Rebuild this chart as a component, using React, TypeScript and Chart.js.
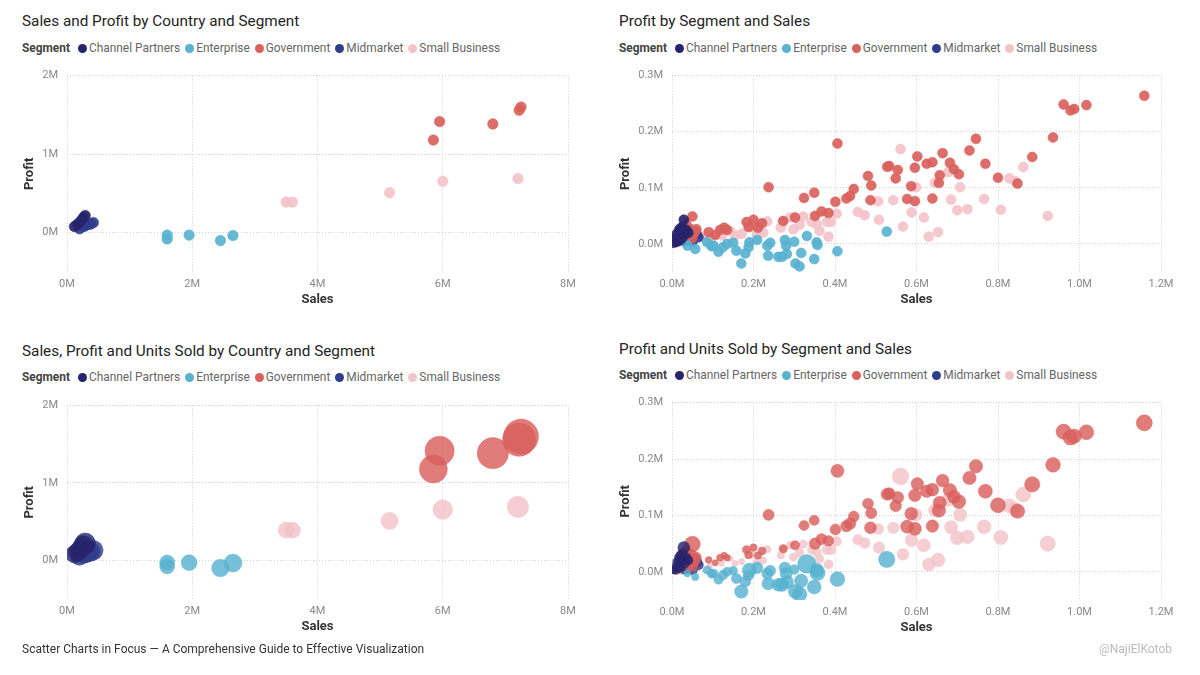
import React, { useEffect, useRef } from "react";
import { Chart, registerables } from "chart.js";

Chart.register(...registerables);

type Row = [number, number, number]; // [sales (M), profit (M), units sold]

const segments = ["Channel Partners", "Enterprise", "Government", "Midmarket", "Small Business"];
const segmentColors = ["#26246C", "#58B2D0", "#D9605C", "#2E3C8C", "#F3C3CA"];

// ---- By Country and Segment (sales M, profit M, units) ----
const cpByCountry: Row[] = [[0.12, 0.08, 42000], [0.17, 0.11, 44000], [0.22, 0.15, 47000], [0.26, 0.19, 52000], [0.29, 0.22, 58000]];
const entByCountry: Row[] = [[1.6, -0.03, 31000], [1.6, -0.08, 30000], [1.95, -0.03, 34000], [2.45, -0.1, 42000], [2.65, -0.035, 44000]];
const govByCountry: Row[] = [[7.25, 1.6, 165000], [7.22, 1.56, 150000], [6.8, 1.385, 132000], [5.95, 1.415, 116000], [5.85, 1.18, 106000]];
const midByCountry: Row[] = [[0.2, 0.05, 42000], [0.27, 0.08, 46000], [0.32, 0.1, 50000], [0.38, 0.11, 48000], [0.42, 0.13, 52000]];
const sbByCountry: Row[] = [[7.2, 0.69, 62000], [6.0, 0.655, 52000], [5.15, 0.51, 40000], [3.5, 0.39, 35000], [3.6, 0.39, 35000]];

// ---- By Segment and Sales (row level) ----
const cpRows: Row[] = [
  [0.029, 0.043, 1800], [0.02, 0.02, 1400], [0.01, 0.01, 900], [0.03, 0.015, 1300], [0.025, 0.03, 1500], [0.015, 0.005, 800],
  [0.035, 0.025, 1200], [0.005, 0.002, 600], [0.04, 0.02, 1100], [0.012, 0.018, 900], [0.022, 0.008, 1000], [0.018, 0.026, 1200],
];
const entRows: Row[] = [
  [0.527, 0.022, 3400], [0.406, -0.013, 2800], [0.349, -0.027, 2500], [0.357, -0.002, 3000], [0.355, 0.003, 2400], [0.331, 0.014, 4400],
  [0.317, -0.016, 2300], [0.313, -0.04, 2800], [0.303, -0.035, 2600], [0.282, -0.018, 2200], [0.27, -0.023, 2300], [0.261, -0.023, 2100],
  [0.28, -0.003, 1900], [0.277, 0.007, 1700], [0.236, -0.021, 2000], [0.234, -0.003, 1600], [0.241, 0.002, 1500], [0.209, 0.007, 1700],
  [0.19, 0.003, 2600], [0.188, -0.006, 1400], [0.18, -0.017, 1500], [0.17, -0.035, 2300], [0.158, -0.012, 1300], [0.135, 0.0, 1100],
  [0.125, -0.006, 1200], [0.114, -0.014, 1100], [0.102, -0.003, 1000], [0.097, -0.004, 900], [0.086, 0.003, 900], [0.057, -0.009, 700],
  [0.038, -0.003, 600], [0.15, 0.002, 1000], [0.3, 0.004, 1200],
];
const govRows: Row[] = [
  [1.159, 0.264, 3300], [0.961, 0.2485, 2900], [0.978, 0.238, 2900], [0.987, 0.2405, 2700], [1.017, 0.2474, 2800], [0.935, 0.1896, 2800],
  [0.884, 0.155, 3000], [0.848, 0.1075, 2600], [0.8, 0.118, 2900], [0.769, 0.1428, 2500], [0.746, 0.1873, 2300], [0.73, 0.1665, 2300],
  [0.704, 0.1243, 2400], [0.692, 0.133, 2200], [0.682, 0.1445, 2300], [0.657, 0.1225, 2200], [0.655, 0.1087, 2300], [0.664, 0.1618, 2100],
  [0.639, 0.1457, 2100], [0.625, 0.1428, 2000], [0.602, 0.156, 2000], [0.596, 0.1358, 2000], [0.587, 0.103, 2100], [0.577, 0.08, 2200],
  [0.596, 0.0763, 2200], [0.639, 0.081, 2000], [0.406, 0.179, 2200], [0.237, 0.101, 1600], [0.349, 0.0913, 1300], [0.324, 0.082, 1300],
  [0.401, 0.075, 1500], [0.428, 0.081, 1700], [0.437, 0.0855, 1700], [0.446, 0.098, 1500], [0.481, 0.121, 1500], [0.489, 0.104, 1600],
  [0.487, 0.078, 1800], [0.528, 0.1375, 1900], [0.533, 0.1387, 1800], [0.554, 0.1318, 1800], [0.549, 0.1168, 1700], [0.351, 0.05, 1700],
  [0.367, 0.058, 1600], [0.384, 0.055, 1400], [0.302, 0.047, 1100], [0.273, 0.041, 900], [0.183, 0.039, 900], [0.188, 0.03, 800],
  [0.2, 0.043, 700], [0.211, 0.029, 700], [0.221, 0.037, 800], [0.09, 0.021, 600], [0.106, 0.016, 500], [0.118, 0.025, 650],
  [0.135, 0.025, 600], [0.128, 0.029, 550], [0.05, 0.049, 3200], [0.035, 0.035, 2000], [0.045, 0.027, 2800], [0.03, 0.022, 2000],
  [0.055, 0.02, 1800], [0.02, 0.012, 1500], [0.04, 0.015, 2500], [0.06, 0.026, 1200], [0.015, 0.005, 1200], [0.025, 0.03, 1800],
  [0.05, 0.01, 1500],
];
const midRows: Row[] = [
  [0.02, 0.01, 1500], [0.035, 0.012, 1800], [0.05, 0.015, 2000], [0.045, 0.008, 1700], [0.06, 0.018, 1500], [0.03, 0.005, 1400],
  [0.01, 0.004, 1200], [0.055, 0.022, 1600], [0.04, 0.018, 1700], [0.025, 0.014, 1500], [0.015, 0.008, 1300], [0.065, 0.012, 1200],
  [0.05, 0.004, 1400],
];
const sbRows: Row[] = [
  [0.561, 0.169, 3600], [0.862, 0.137, 2900], [0.828, 0.117, 2500], [0.841, 0.112, 2300], [0.807, 0.061, 2600], [0.766, 0.08, 2500],
  [0.725, 0.062, 2400], [0.7, 0.06, 2400], [0.707, 0.101, 2300], [0.685, 0.079, 2200], [0.678, 0.128, 2200], [0.645, 0.109, 2100],
  [0.599, 0.101, 1900], [0.588, 0.056, 2100], [0.618, 0.047, 2200], [0.653, 0.021, 2400], [0.63, 0.013, 2100], [0.567, 0.031, 1800],
  [0.922, 0.05, 3000], [0.506, 0.076, 1500], [0.543, 0.078, 1700], [0.508, 0.043, 1700], [0.473, 0.051, 1500], [0.456, 0.057, 1400],
  [0.404, 0.054, 1200], [0.384, 0.013, 1100], [0.39, 0.039, 1300], [0.38, 0.039, 1200], [0.362, 0.023, 1000], [0.355, 0.035, 1100],
  [0.343, 0.039, 1000], [0.322, 0.049, 900], [0.313, 0.034, 1000], [0.298, 0.026, 900], [0.29, 0.047, 800], [0.267, 0.029, 700],
  [0.272, 0.04, 800], [0.234, 0.04, 700], [0.224, 0.02, 600], [0.208, 0.017, 800], [0.198, 0.031, 600], [0.171, 0.018, 500],
  [0.155, 0.015, 500], [0.143, 0.023, 450], [0.122, 0.015, 500], [0.092, 0.009, 450], [0.069, 0.013, 600], [0.05, 0.005, 500],
];

const countryRows = [cpByCountry, entByCountry, govByCountry, midByCountry, sbByCountry];
const segmentRows = [cpRows, entRows, govRows, midRows, sbRows];

const countryXTicks = [0, 2, 4, 6, 8];
const countryYTicks = [0, 1, 2];
const rowXTicks = [0, 0.2, 0.4, 0.6, 0.8, 1.0, 1.2];
const rowYTicks = [0, 0.1, 0.2, 0.3];

const FONT = "Roboto, 'Noto Sans', sans-serif";

interface PanelProps {
  title: string;
  x: number;
  titleY: number;
  legendY: number;
  canvasLeft: number;
  canvasTop: number;
  canvasWidth: number;
  canvasHeight: number;
  yAxisWidth: number;
  padTop: number;
  padRight: number;
  yTitlePad: number;
  rows: Row[][];
  bubble: boolean;
  rScale: number;
  pointR: number;
  xMin: number; xMax: number; xTicks: number[];
  yMin: number; yMax: number; yTicks: number[];
  decimals: number;
}

const X_AXIS_H = 45;

function Legend({ x, y }: { x: number; y: number }) {
  return (
    <div style={{ position: "absolute", left: x, top: y - 9, height: 18, display: "flex", alignItems: "center", fontSize: 11.9, color: "#666", whiteSpace: "nowrap", fontFamily: FONT }}>
      <span style={{ fontWeight: 700, color: "#444", marginRight: 8 }}>Segment</span>
      {segments.map((s, i) => (
        <span key={s} style={{ display: "flex", alignItems: "center", marginRight: 5 }}>
          <span style={{ width: 9, height: 9, borderRadius: "50%", background: segmentColors[i], marginRight: 2, display: "inline-block" }} />
          {s}
        </span>
      ))}
    </div>
  );
}

function Panel(p: PanelProps) {
  const ref = useRef<HTMLCanvasElement | null>(null);
  useEffect(() => {
    if (!ref.current) return;
    const fmt = (v: number) => `${Number(v).toFixed(p.decimals)}M`;
    const datasets = p.rows.map((rows, i) => ({
      label: segments[i],
      data: rows.map(([sx, sy, u]) => (p.bubble ? { x: sx, y: sy, r: Math.sqrt(u) * p.rScale } : { x: sx, y: sy })),
      backgroundColor: segmentColors[i] + (p.bubble ? "D0" : "EA"),
      borderColor: segmentColors[i] + (p.bubble ? "D0" : "EA"),
      borderWidth: 0.5,
      pointRadius: p.pointR,
      pointHoverRadius: p.pointR,
    }));
    const chart = new Chart(ref.current, {
      type: p.bubble ? "bubble" : "scatter",
      data: { datasets } as any,
      options: {
        animation: false,
        responsive: false,
        events: [],
        layout: { autoPadding: false, padding: { left: 0, top: p.padTop, right: p.padRight, bottom: 0 } },
        plugins: { legend: { display: false }, tooltip: { enabled: false } },
        scales: {
          x: {
            type: "linear",
            min: p.xMin,
            max: p.xMax,
            afterBuildTicks: (s: any) => { s.ticks = p.xTicks.map((v) => ({ value: v })); },
            afterFit: (s: any) => { s.height = X_AXIS_H; },
            ticks: { callback: (v: any) => fmt(v), color: "#888", font: { size: 11, family: FONT }, padding: 6, maxRotation: 0, autoSkip: false },
            grid: { color: "#cfcfcf", lineWidth: 1, drawTicks: false },
            border: { display: false, dash: [1, 2] },
            title: { display: true, text: "Sales", color: "#333", font: { size: 13, weight: "bold", family: FONT }, padding: { top: 0, bottom: 9.5 } },
          },
          y: {
            type: "linear",
            min: p.yMin,
            max: p.yMax,
            afterBuildTicks: (s: any) => { s.ticks = p.yTicks.map((v) => ({ value: v })); },
            afterFit: (s: any) => { s.width = p.yAxisWidth; },
            ticks: { callback: (v: any) => fmt(v), color: "#888", font: { size: 11, family: FONT }, padding: 9, autoSkip: false },
            grid: { color: "#cfcfcf", lineWidth: 1, drawTicks: false },
            border: { display: false, dash: [1, 2] },
            title: { display: true, text: "Profit", color: "#333", font: { size: 13, weight: "bold", family: FONT }, padding: { top: p.yTitlePad, bottom: 0 } },
          },
        },
      } as any,
    });
    return () => chart.destroy();
  }, []);
  return (
    <>
      <div style={{ position: "absolute", left: p.x, top: p.titleY - 10, height: 20, lineHeight: "20px", fontSize: 15.3, color: "#252423", fontFamily: FONT, whiteSpace: "nowrap" }}>{p.title}</div>
      <Legend x={p.x} y={p.legendY} />
      <canvas ref={ref} width={p.canvasWidth} height={p.canvasHeight}
        style={{ position: "absolute", left: p.canvasLeft, top: p.canvasTop, width: p.canvasWidth, height: p.canvasHeight }} />
    </>
  );
}

export default function App() {
  const left = { x: 22, canvasLeft: 10, canvasWidth: 580, yAxisWidth: 57, padRight: 22, yTitlePad: 12, xMin: 0, xMax: 8, xTicks: countryXTicks, yMin: -0.5, yMax: 2, yTicks: countryYTicks, decimals: 0, rows: countryRows };
  const right = { x: 619, canvasLeft: 612, canvasWidth: 570, yAxisWidth: 60, padRight: 21, yTitlePad: 6, xMin: 0, xMax: 1.2, xTicks: rowXTicks, yMin: -0.05, yMax: 0.3, yTicks: rowYTicks, decimals: 1, rows: segmentRows };
  return (
    <div style={{ position: "absolute", left: 0, top: 0, width: 1200, height: 675, background: "#fff", overflow: "hidden", fontFamily: FONT }}>
      <Panel {...left} title="Sales and Profit by Country and Segment" titleY={21} legendY={48}
        canvasTop={60} canvasHeight={272 + X_AXIS_H - 60} padTop={10} bubble={false} rScale={0} pointR={5.3} />
      <Panel {...right} title="Profit by Segment and Sales" titleY={21} legendY={48}
        canvasTop={60} canvasHeight={272 + X_AXIS_H - 60} padTop={10} bubble={false} rScale={0} pointR={5} />
      <Panel {...left} title="Sales, Profit and Units Sold by Country and Segment" titleY={351} legendY={377}
        canvasTop={390} canvasHeight={599 + X_AXIS_H - 390} padTop={10} bubble={true} rScale={0.043} pointR={5} />
      <Panel {...right} title="Profit and Units Sold by Segment and Sales" titleY={349} legendY={375}
        canvasTop={387} canvasHeight={600 + X_AXIS_H - 387} padTop={10} bubble={true} rScale={0.14} pointR={5} />
      <div style={{ position: "absolute", left: 22, top: 642, fontSize: 12, color: "#333", whiteSpace: "nowrap" }}>
        Scatter Charts in Focus — A Comprehensive Guide to Effective Visualization
      </div>
      <div style={{ position: "absolute", right: 28, top: 642, fontSize: 12, color: "#bbb", whiteSpace: "nowrap" }}>@NajiElKotob</div>
    </div>
  );
}
